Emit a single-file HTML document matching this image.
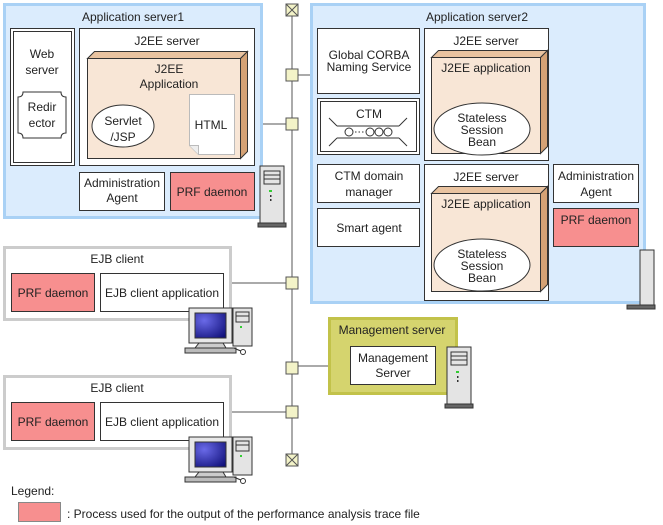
<!DOCTYPE html>
<html><head><meta charset="utf-8"><style>
body{margin:0;background:#fff}
svg{display:block;font-family:"Liberation Sans",Arial,sans-serif;font-size:12px}
text{fill:#222}
</style></head><body>
<svg width="663" height="525" viewBox="0 0 663 525">
<defs>
<radialGradient id="scr" cx="0.3" cy="0.3" r="0.9"><stop offset="0" stop-color="#6a6ae8"/><stop offset="1" stop-color="#10107a"/></radialGradient>
<g id="srv">
 <rect x="2" y="0" width="24" height="57" fill="#e4e4e4" stroke="#333"/>
 <rect x="6" y="5" width="16" height="13" fill="#e4e4e4" stroke="#333"/>
 <line x1="6" y1="9" x2="22" y2="9" stroke="#333"/>
 <line x1="6" y1="13" x2="22" y2="13" stroke="#333"/>
 <rect x="11" y="24" width="3" height="2" fill="#3c3"/>
 <rect x="12" y="29" width="1.5" height="2" fill="#333"/><rect x="12" y="33" width="1.5" height="2" fill="#333"/>
 <rect x="0" y="57" width="28" height="4" fill="#666" stroke="#333"/>
</g>
<g id="pc">
 <rect x="4" y="0" width="43" height="35" fill="#e8e8e8" stroke="#333"/>
 <rect x="10" y="5" width="31" height="25" fill="url(#scr)" stroke="#333"/>
 <rect x="48" y="0" width="19" height="38" fill="#e4e4e4" stroke="#333"/>
 <rect x="51" y="4" width="13" height="10" fill="#e4e4e4" stroke="#333"/>
 <line x1="51" y1="8" x2="64" y2="8" stroke="#333"/>
 <rect x="55" y="18" width="2" height="2" fill="#3c3"/>
 <polygon points="14,35 38,35 41,40 10,40" fill="#ccc" stroke="#333"/>
 <rect x="0" y="40" width="51" height="5" fill="#bbb" stroke="#333"/>
 <circle cx="58" cy="44" r="2.5" fill="#fff" stroke="#333"/>
 <path d="M49,40 Q53,42 56,43" fill="none" stroke="#333"/>
</g>
<g id="hub"><rect x="-6" y="-6" width="12" height="12" fill="#f3f3c8" stroke="#555"/></g>
</defs>

<!-- bus -->
<line x1="292" y1="10" x2="292" y2="460" stroke="#555"/>
<line x1="262" y1="124" x2="292" y2="124" stroke="#555"/>
<line x1="292" y1="75" x2="310" y2="75" stroke="#555"/>
<line x1="231" y1="283" x2="292" y2="283" stroke="#555"/>
<line x1="292" y1="366" x2="328" y2="366" stroke="#555"/>
<line x1="231" y1="412" x2="292" y2="412" stroke="#555"/>

<!-- App server1 -->
<rect x="4.5" y="4.5" width="257" height="213" fill="#dbecfd" stroke="#a9d1f5" stroke-width="3"/>
<text x="133" y="21" text-anchor="middle">Application server1</text>
<rect x="10.5" y="28.5" width="64" height="137" fill="#fff" stroke="#333"/>
<rect x="13.5" y="31.5" width="58" height="131" fill="#fff" stroke="#333"/>
<text x="42" y="58" text-anchor="middle">Web</text><text x="42" y="74" text-anchor="middle">server</text>
<path d="M23,92 H61 Q61,97 66,97 V133 Q61,133 61,138 H23 Q23,133 18,133 V97 Q23,97 23,92Z" fill="#fff" stroke="#333"/>
<text x="42" y="111" text-anchor="middle">Redir</text><text x="42" y="127" text-anchor="middle">ector</text>
<rect x="79.5" y="28.5" width="175" height="137" fill="#fff" stroke="#333"/>
<text x="167" y="45" text-anchor="middle">J2EE server</text>
<polygon points="87.5,58.5 94.5,51.5 247.5,51.5 240.5,58.5" fill="#e9c3a0" stroke="#333"/>
<polygon points="240.5,58.5 247.5,51.5 247.5,151.5 240.5,158.5" fill="#d5a275" stroke="#333"/>
<rect x="87.5" y="58.5" width="153" height="100" fill="#f8e6d6" stroke="#333"/>
<text x="169" y="73" text-anchor="middle">J2EE</text><text x="169" y="88" text-anchor="middle">Application</text>
<ellipse cx="123" cy="126" rx="31" ry="21" fill="#fff" stroke="#333"/>
<text x="123" y="125" text-anchor="middle">Servlet</text><text x="123" y="141" text-anchor="middle">/JSP</text>
<path d="M189.5,94.5 H234.5 V154.5 H198.5 L189.5,145.5Z" fill="#fff" stroke="#bbb"/>
<path d="M189.5,145.5 H198.5 V154.5" fill="#eee" stroke="#bbb"/>
<text x="211" y="129" text-anchor="middle">HTML</text>
<rect x="79.5" y="172.5" width="85" height="38" fill="#fff" stroke="#333"/>
<text x="122" y="187" text-anchor="middle">Administration</text><text x="122" y="202" text-anchor="middle">Agent</text>
<rect x="170.5" y="172.5" width="84" height="38" fill="#f78f8f" stroke="#333"/>
<text x="212" y="196" text-anchor="middle">PRF daemon</text>
<use href="#srv" x="258" y="166"/>

<!-- App server2 -->
<rect x="311.5" y="4.5" width="333" height="298" fill="#dbecfd" stroke="#a9d1f5" stroke-width="3"/>
<text x="477" y="21" text-anchor="middle">Application server2</text>
<rect x="317.5" y="28.5" width="102" height="65" fill="#fff" stroke="#333"/>
<text x="369" y="59" text-anchor="middle">Global CORBA</text><text x="369" y="71" text-anchor="middle">Naming Service</text>
<rect x="317.5" y="98.5" width="102" height="56" fill="#fff" stroke="#333"/>
<rect x="320.5" y="101.5" width="96" height="50" fill="#fff" stroke="#333"/>
<text x="369" y="118" text-anchor="middle">CTM</text>
<g stroke="#333" fill="#fff">
<line x1="337" y1="126" x2="399" y2="126"/><line x1="337" y1="138" x2="399" y2="138"/>
<line x1="337" y1="126" x2="329" y2="118"/><line x1="399" y1="126" x2="407" y2="118"/>
<line x1="337" y1="138" x2="329" y2="146"/><line x1="399" y1="138" x2="407" y2="146"/>
<circle cx="349" cy="132" r="4"/><circle cx="370" cy="132" r="4"/><circle cx="379" cy="132" r="4"/><circle cx="388" cy="132" r="4"/>
<line x1="355" y1="132" x2="364" y2="132" stroke-dasharray="1.5,2"/>
</g>
<rect x="317.5" y="164.5" width="102" height="38" fill="#fff" stroke="#333"/>
<text x="369" y="180" text-anchor="middle">CTM domain</text><text x="369" y="196" text-anchor="middle">manager</text>
<rect x="317.5" y="208.5" width="102" height="38" fill="#fff" stroke="#333"/>
<text x="369" y="232" text-anchor="middle">Smart agent</text>

<rect x="424.5" y="28.5" width="124" height="132" fill="#fff" stroke="#333"/>
<text x="486" y="45" text-anchor="middle">J2EE server</text>
<polygon points="431.5,57.5 438.5,50.5 547.5,50.5 540.5,57.5" fill="#e9c3a0" stroke="#333"/>
<polygon points="540.5,57.5 547.5,50.5 547.5,146.5 540.5,153.5" fill="#d5a275" stroke="#333"/>
<rect x="431.5" y="57.5" width="109" height="96" fill="#f8e6d6" stroke="#333"/>
<text x="486" y="72" text-anchor="middle">J2EE application</text>
<ellipse cx="482" cy="129" rx="48" ry="26" fill="#fff" stroke="#333"/>
<text x="482" y="122" text-anchor="middle">Stateless</text><text x="482" y="134" text-anchor="middle">Session</text><text x="482" y="146" text-anchor="middle">Bean</text>

<rect x="424.5" y="164.5" width="124" height="136" fill="#fff" stroke="#333"/>
<text x="486" y="181" text-anchor="middle">J2EE server</text>
<polygon points="431.5,193.5 438.5,186.5 547.5,186.5 540.5,193.5" fill="#e9c3a0" stroke="#333"/>
<polygon points="540.5,193.5 547.5,186.5 547.5,284.5 540.5,291.5" fill="#d5a275" stroke="#333"/>
<rect x="431.5" y="193.5" width="109" height="98" fill="#f8e6d6" stroke="#333"/>
<text x="486" y="208" text-anchor="middle">J2EE application</text>
<ellipse cx="482" cy="265" rx="48" ry="26" fill="#fff" stroke="#333"/>
<text x="482" y="258" text-anchor="middle">Stateless</text><text x="482" y="270" text-anchor="middle">Session</text><text x="482" y="282" text-anchor="middle">Bean</text>

<rect x="553.5" y="164.5" width="85" height="38" fill="#fff" stroke="#333"/>
<text x="596" y="180" text-anchor="middle">Administration</text><text x="596" y="196" text-anchor="middle">Agent</text>
<rect x="553.5" y="208.5" width="85" height="38" fill="#f78f8f" stroke="#333"/>
<text x="596" y="224" text-anchor="middle">PRF daemon</text>
<rect x="640" y="250" width="14" height="55" fill="#e4e4e4" stroke="#333"/>
<rect x="627" y="305" width="28" height="4" fill="#666" stroke="#333"/>

<!-- EJB client 1 -->
<rect x="4.5" y="247.5" width="226" height="72" fill="#fff" stroke="#ccc" stroke-width="3"/>
<text x="117" y="263" text-anchor="middle">EJB client</text>
<rect x="11.5" y="273.5" width="83" height="38" fill="#f78f8f" stroke="#333"/>
<text x="53" y="297" text-anchor="middle">PRF daemon</text>
<rect x="100.5" y="273.5" width="123" height="38" fill="#fff" stroke="#333"/>
<text x="162" y="297" text-anchor="middle">EJB client application</text>
<use href="#pc" x="185" y="308"/>

<!-- EJB client 2 -->
<rect x="4.5" y="376.5" width="226" height="72" fill="#fff" stroke="#ccc" stroke-width="3"/>
<text x="117" y="392" text-anchor="middle">EJB client</text>
<rect x="11.5" y="402.5" width="83" height="38" fill="#f78f8f" stroke="#333"/>
<text x="53" y="426" text-anchor="middle">PRF daemon</text>
<rect x="100.5" y="402.5" width="123" height="38" fill="#fff" stroke="#333"/>
<text x="162" y="426" text-anchor="middle">EJB client application</text>
<use href="#pc" x="185" y="437"/>

<!-- Management server -->
<rect x="329.5" y="318.5" width="127" height="75" fill="#d5d46e" stroke="#c2c24a" stroke-width="3"/>
<text x="392" y="334" text-anchor="middle">Management server</text>
<rect x="350.5" y="346.5" width="85" height="38" fill="#fff" stroke="#333"/>
<text x="393" y="362" text-anchor="middle">Management</text><text x="393" y="377" text-anchor="middle">Server</text>
<use href="#srv" x="445" y="347"/>

<!-- hubs -->
<use href="#hub" x="292" y="75"/><use href="#hub" x="292" y="124"/>
<use href="#hub" x="292" y="283"/><use href="#hub" x="292" y="368"/><use href="#hub" x="292" y="412"/>
<g stroke="#555" fill="#f3f3c8">
<rect x="286" y="4" width="12" height="12"/><path d="M286,4 L298,16 M298,4 L286,16"/>
<rect x="286" y="454" width="12" height="12"/><path d="M286,454 L298,466 M298,454 L286,466"/>
</g>

<!-- legend -->
<text x="11" y="495">Legend:</text>
<rect x="18.5" y="502.5" width="42" height="19" fill="#f78f8f" stroke="#888"/>
<text x="67" y="518">: Process used for the output of the performance analysis trace file</text>
</svg>
</body></html>
